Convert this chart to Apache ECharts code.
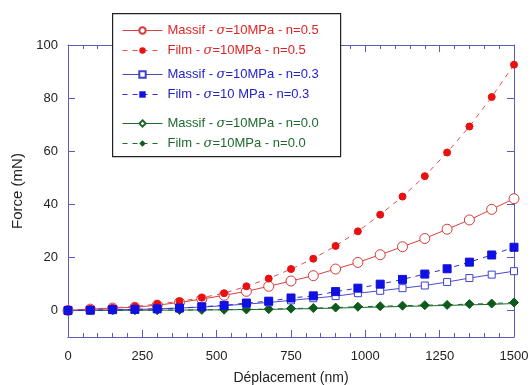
<!DOCTYPE html>
<html><head><meta charset="utf-8">
<script src="https://cdn.jsdelivr.net/npm/echarts@6/dist/echarts.min.js"></script>
<style>html,body{margin:0;padding:0;background:#fff}#c{width:532px;height:385px}</style>
</head><body><div id="c"></div>
<script>
const xValues = [0,75,150,225,300,375,450,525,600,675,750,825,900,975,1050,1125,1200,1275,1350,1425,1500];
const massif05 = [0,0.5,0.9,1.2,2.0,3.0,4.3,5.7,7.2,9.1,11.1,13.1,15.6,18.1,21.0,24.0,27.1,30.6,34.1,38.1,42.1];
const film05 = [0,0.6,1.0,1.5,2.4,3.4,4.8,6.5,9.1,12.0,15.6,19.5,24.3,29.8,36.1,42.9,50.6,59.5,69.3,80.4,92.6];
const massif03 = [0,0.1,0.2,0.4,0.6,0.9,1.3,1.8,2.4,3.0,3.8,4.6,5.4,6.5,7.4,8.4,9.4,10.7,12.2,13.5,14.8];
const film03 = [0,0.1,0.3,0.4,0.6,0.9,1.4,1.9,2.8,3.5,4.7,5.5,7.1,8.4,9.9,11.7,13.7,15.7,18.2,20.9,23.8];
const massif00 = [0,0.02,0.04,0.08,0.1,0.14,0.2,0.26,0.32,0.42,0.55,0.7,0.9,1.1,1.3,1.5,1.7,1.9,2.1,2.3,2.6];
const film00 = [0,0.02,0.05,0.1,0.12,0.16,0.22,0.3,0.38,0.5,0.7,0.9,1.1,1.4,1.6,1.8,2.0,2.1,2.4,2.6,3.0];
const yTicks = [0,20,40,60,80,100];
const names = [
  'Massif - σ=10MPa - n=0.5','Film - σ=10MPa - n=0.5',
  'Massif - σ=10MPa - n=0.3','Film - σ=10 MPa - n=0.3',
  'Massif - σ=10MPa - n=0.0','Film - σ=10MPa - n=0.0'
];
const pairs = arr => xValues.map((x,i)=>[x,arr[i]]);
const FONT = '"Liberation Sans", Arial, sans-serif';
const AX = '#5a5ac0';
const RED = '#e02424', BLUE = '#2222cc', GREEN = '#1e6a2e';

function legendFmt(n){
  const i = n.indexOf('σ');
  return '{n|' + n.slice(0,i) + '}{s|σ}{n|' + n.slice(i+1) + '}';
}
function mkLegend(data, top, color){
  return {
    orient:'vertical', left:117, top:top, itemWidth:40, itemHeight:8, itemGap:7, z:6,
    data:data, formatter:legendFmt, selectedMode:false,
    lineStyle:{width:1},
    textStyle:{color:color, fontFamily:FONT, fontSize:13,
      rich:{n:{color:color,fontFamily:FONT,fontSize:13}, s:{color:color,fontFamily:'"DejaVu Serif", serif',fontStyle:'italic',fontSize:13}}}
  };
}
const noZero = {show:true, onZero:false, lineStyle:{color:AX,width:1}};
const chart = echarts.init(document.getElementById('c'), null, {renderer:'canvas'});
chart.setOption({
  animation:false,
  backgroundColor:'#fff',
  grid:{left:68,right:18,top:45,bottom:48,outerBoundsMode:'none',containLabel:false},
  graphic:[{type:'rect', left:112, top:13, z:5, shape:{width:228,height:143}, style:{fill:'#fff', stroke:'#222', lineWidth:1.2}}],
  legend:[
    mkLegend(names.slice(0,2), 19, RED),
    mkLegend(names.slice(2,4), 63, BLUE),
    mkLegend(names.slice(4,6), 112, GREEN)
  ],
  xAxis:[{
    type:'value', min:0, max:1500, interval:250,
    name:'Déplacement (nm)', nameLocation:'middle', nameGap:34,
    nameTextStyle:{fontFamily:FONT,fontSize:14,color:'#222'},
    axisLine:noZero,
    axisTick:{inside:true,length:7,lineStyle:{color:AX}},
    minorTick:{show:true,splitNumber:5,length:4,lineStyle:{color:AX}},
    axisLabel:{margin:13,fontFamily:FONT,fontSize:13,color:'#222',formatter:v=>String(v)},
    splitLine:{show:false}
  },{
    type:'value', position:'top', min:0, max:1500, interval:250,
    axisLine:noZero,
    axisTick:{inside:true,length:7,lineStyle:{color:AX}},
    minorTick:{show:true,splitNumber:5,length:4,lineStyle:{color:AX}},
    axisLabel:{show:false}, splitLine:{show:false}
  }],
  yAxis:[{
    type:'value', min:-10, max:100,
    name:'Force (mN)', nameLocation:'middle', nameGap:37,
    nameTextStyle:{fontFamily:FONT,fontSize:15,color:'#222'},
    axisLine:noZero,
    axisTick:{inside:true,length:7,customValues:yTicks,lineStyle:{color:AX}},
    axisLabel:{customValues:yTicks,margin:10,fontFamily:FONT,fontSize:13,color:'#222'},
    splitLine:{show:false}
  },{
    type:'value', position:'right', min:-10, max:100,
    axisLine:noZero,
    axisTick:{inside:true,length:7,customValues:yTicks,lineStyle:{color:AX}},
    axisLabel:{show:false}, splitLine:{show:false}
  }],
  series:[
    {name:names[4], type:'line', data:pairs(massif00), symbol:'diamond', symbolSize:5,
      itemStyle:{color:'#fff',borderColor:GREEN,borderWidth:1}, lineStyle:{color:GREEN,width:1}},
    {name:names[5], type:'line', data:pairs(film00), symbol:'diamond', symbolSize:9,
      itemStyle:{color:'#0c5a1c',borderColor:'#0c5a1c'}, lineStyle:{color:GREEN,width:1,type:[5,5]}},
    {name:names[0], type:'line', data:pairs(massif05), symbol:'circle', symbolSize:10,
      itemStyle:{color:'#fff',borderColor:'#d83838',borderWidth:1}, lineStyle:{color:'#d84040',width:1}},
    {name:names[1], type:'line', data:pairs(film05), symbol:'circle', symbolSize:7,
      itemStyle:{color:'#e81010',borderColor:'#e81010'}, lineStyle:{color:'#e05050',width:1,type:[5,5]}},
    {name:names[2], type:'line', data:pairs(massif03), symbol:'rect', symbolSize:7,
      itemStyle:{color:'#fff',borderColor:'#4040d0',borderWidth:1}, lineStyle:{color:'#4a4ac8',width:1}},
    {name:names[3], type:'line', data:pairs(film03), symbol:'rect', symbolSize:8,
      itemStyle:{color:'#1010e0',borderColor:'#1010e0'}, lineStyle:{color:'#3030c8',width:1,type:[5,5]}}
  ]
});
</script></body></html>
